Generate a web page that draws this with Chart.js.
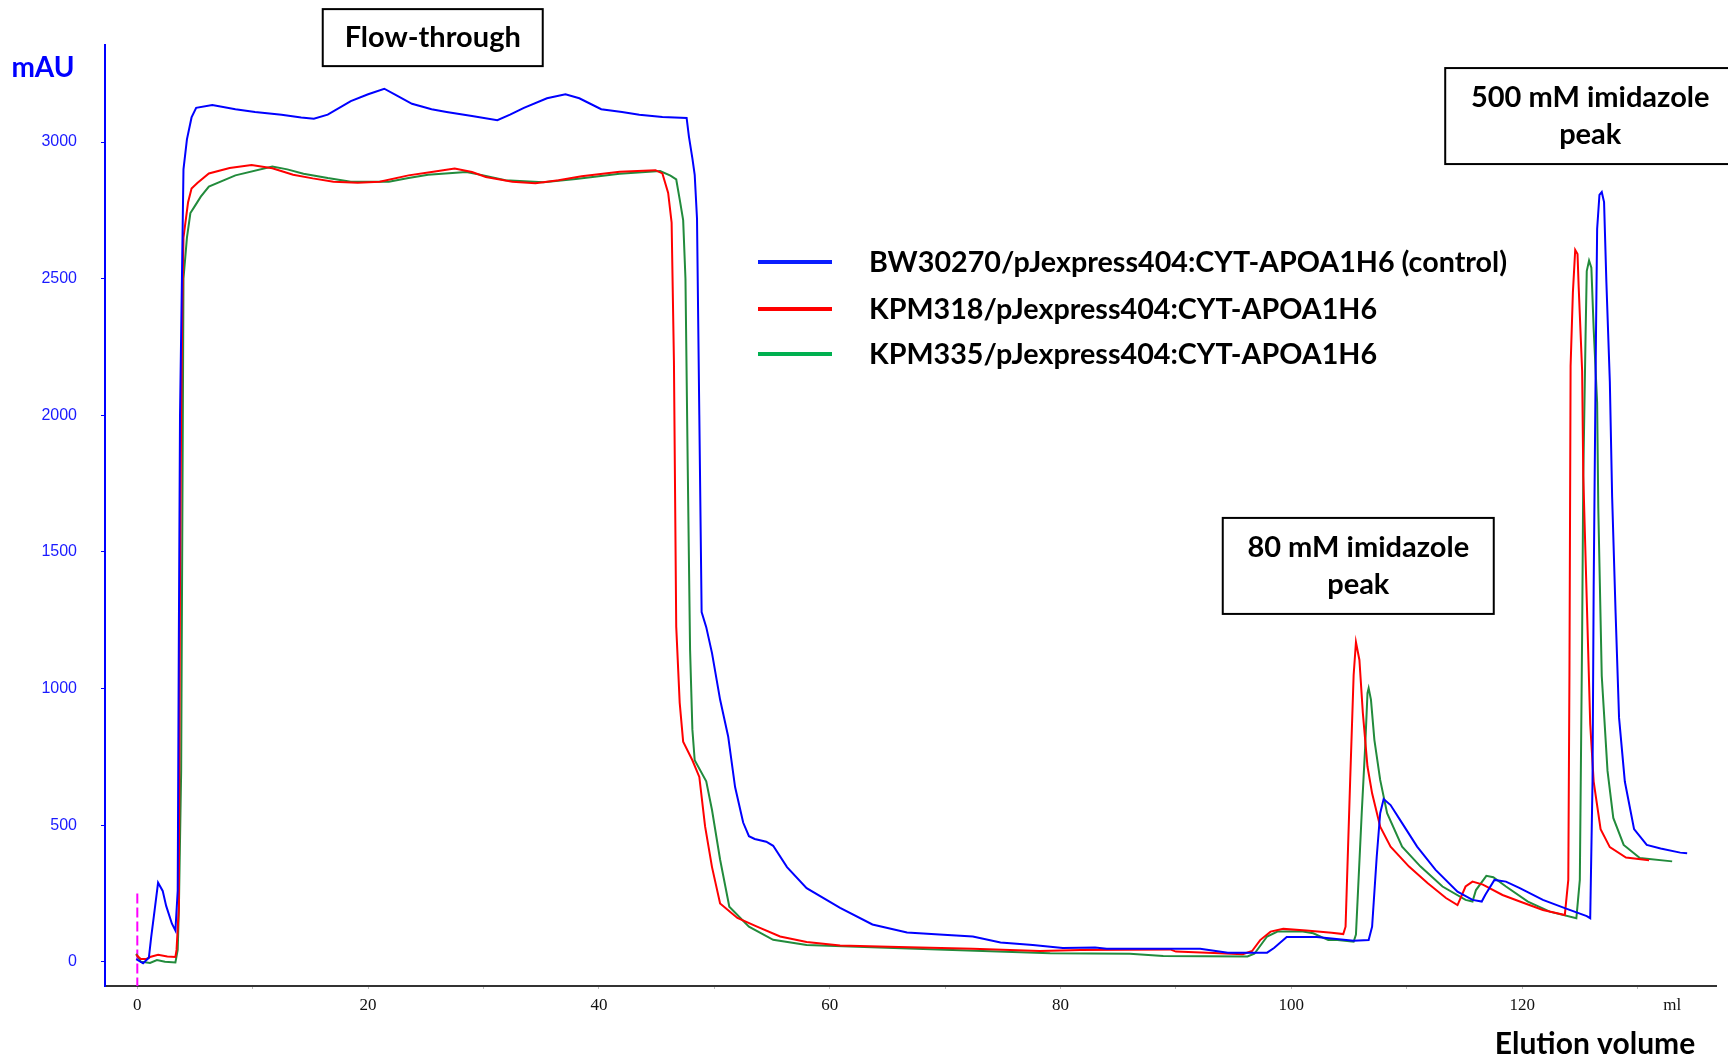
<!DOCTYPE html>
<html>
<head>
<meta charset="utf-8">
<script src="https://cdn.jsdelivr.net/npm/chart.js@4.4.1/dist/chart.umd.min.js"></script>
<style>
  html, body { margin: 0; padding: 0; background: #fff; overflow: hidden; }
  #wrap { width: 1728px; height: 1058px; position: relative; }
</style>
</head>
<body>
<div id="wrap"><canvas id="chroma"></canvas></div>
<script>
// elution volume (ml) / absorbance (mAU) for each run
const volBW = [-0.1,0.5,1.0,1.2,1.5,1.8,2.2,2.5,3.0,3.3,3.5,3.6,3.7,3.9,4.0,4.3,4.7,5.1,6.5,8.5,10.2,12.5,14.2,15.3,16.5,18.5,20.0,21.4,22.5,23.8,25.5,26.8,29.0,31.2,32.3,33.5,35.5,37.1,38.3,40.2,42.0,43.5,45.5,47.6,47.8,48.1,48.3,48.5,48.7,48.9,49.3,49.8,50.5,51.2,51.8,52.5,53.0,53.5,54.5,55.1,56.3,58.0,60.9,63.7,66.7,69.5,72.4,74.8,77.6,80.2,83.0,84.0,92.1,94.5,97.9,98.5,99.6,102.2,105.4,106.7,107.0,107.4,107.7,108.0,108.6,109.6,110.9,112.5,114.4,115.7,116.5,116.8,117.6,118.6,119.8,121.8,123.7,125.6,125.9,126.1,126.2,126.4,126.5,126.7,126.9,127.1,127.3,127.6,127.8,128.1,128.4,128.9,129.7,130.8,132.0,133.7,134.3];
const absBW = [10,-5,15,90,190,290,260,205,140,115,260,1200,2000,2600,2900,3010,3090,3125,3135,3120,3110,3100,3090,3085,3100,3150,3175,3195,3170,3140,3120,3110,3095,3080,3100,3125,3160,3175,3160,3120,3110,3100,3092,3088,3020,2940,2880,2720,2000,1280,1225,1130,960,825,640,510,460,450,440,425,347,270,198,137,108,100,93,71,62,51,53,48,48,34,34,51,91,91,78,80,129,385,544,596,574,508,422,337,257,227,221,245,300,294,270,227,197,168,160,660,1372,2298,2682,2807,2817,2780,2489,2124,1701,1277,893,660,486,428,415,400,398];

const volK318 = [-0.1,0.3,0.8,1.1,1.8,2.6,3.3,3.4,3.6,3.7,3.8,3.9,4.0,4.4,4.7,5.2,6.2,8.0,9.9,11.7,13.5,15.2,17.0,19.1,21.0,23.5,25.5,27.5,29.0,30.2,32.5,34.5,36.5,38.5,41.8,44.9,45.5,46.0,46.3,46.5,46.7,47.0,47.3,48.1,48.7,49.2,49.8,50.5,52.0,53.7,55.7,58.0,60.9,66.0,72.4,78.2,81.7,89.5,90.0,93.8,95.8,96.6,97.3,98.2,99.3,101.3,103.5,104.5,104.7,105.1,105.4,105.6,105.9,106.2,106.6,107.0,107.7,108.6,110.2,111.8,113.4,114.4,115.1,115.7,116.6,118.3,119.8,121.8,123.7,124.0,124.1,124.2,124.4,124.6,124.8,124.9,125.2,125.3,125.9,126.2,126.8,127.6,129.0,131.0];
const absK318 = [26,11,11,18,26,20,18,44,200,1400,2000,2400,2650,2780,2830,2850,2885,2905,2916,2904,2880,2867,2855,2851,2855,2878,2890,2903,2890,2872,2855,2849,2860,2875,2891,2897,2885,2814,2705,2200,1226,948,806,738,677,496,347,214,161,129,93,73,60,55,48,40,44,46,38,32,28,40,80,111,121,115,107,102,129,666,1050,1170,1105,910,715,617,495,422,349,289,234,208,276,294,283,245,221,190,172,300,1046,2180,2451,2605,2590,2470,2162,1778,871,660,486,420,382,372];

const volK335 = [-0.1,0.3,1.1,1.7,2.4,3.3,3.5,3.6,3.8,3.9,4.0,4.3,4.6,4.9,5.5,6.2,8.5,11.7,13.0,14.4,16.5,18.5,21.8,23.5,25.2,28.5,30.0,31.9,35.2,38.0,41.8,45.3,46.2,46.7,47.0,47.3,47.5,47.7,47.9,48.1,48.3,49.3,49.8,50.5,51.3,53.0,55.1,58.0,63.0,70.0,79.1,86.0,88.9,96.2,96.8,97.9,98.8,101.0,101.9,103.2,104.0,105.4,105.6,106.1,106.4,106.6,106.7,106.9,107.2,107.7,108.3,109.6,111.2,113.1,115.1,115.7,116.0,116.9,117.5,118.6,120.5,122.4,124.7,125.0,125.2,125.3,125.5,125.6,125.8,126.0,126.2,126.5,126.6,126.9,127.4,127.9,128.8,130.2,133.0];
const absK335 = [30,1,-4,7,1,-2,44,190,700,1600,2500,2650,2740,2760,2800,2837,2878,2910,2900,2884,2868,2855,2855,2868,2880,2890,2878,2860,2853,2865,2884,2894,2877,2863,2790,2714,2500,1800,1141,850,738,661,556,375,202,129,81,62,55,45,32,30,22,20,30,93,111,111,105,80,80,74,100,544,788,984,1002,960,812,666,544,422,349,276,227,221,263,315,310,276,221,184,160,300,1200,1778,2298,2528,2566,2540,2316,2046,1661,1046,699,527,428,380,368];

// sample injection mark
const injectVol = [0, 0];
const injectAbs = [250, -88];

const seriesNames = [
  'BW30270/pJexpress404:CYT-APOA1H6 (control)',
  'KPM318/pJexpress404:CYT-APOA1H6',
  'KPM335/pJexpress404:CYT-APOA1H6'
];
const yTicks = [0, 500, 1000, 1500, 2000, 2500, 3000];
const xTicks = [0, 10, 20, 30, 40, 50, 60, 70, 80, 90, 100, 110, 120, 130, 133];
const unitTick = 133;

// boxed notes, placed in ml / mAU
const notes = [
  { lines: ['Flow-through'], x: 25.6, y: 3382, w: 220, h: 57 },
  { lines: ['80 mM imidazole', 'peak'], x: 105.8, y: 1449, w: 271, h: 96 },
  { lines: ['500 mM imidazole', 'peak'], x: 125.9, y: 3095, w: 290, h: 96 }
];

const pts = (xs, ys) => xs.map((x, i) => ({ x: x, y: ys[i] }));

const labelFont = 'Lato, "Open Sans", sans-serif';

const decorations = {
  id: 'decorations',
  afterDraw(chart) {
    const ctx = chart.ctx;
    const xs = chart.scales.x, ys = chart.scales.y;
    ctx.save();

    // axis names
    ctx.textBaseline = 'middle';
    ctx.textAlign = 'center';
    ctx.fillStyle = '#0000ff';
    ctx.font = 'bold 28px ' + labelFont;
    ctx.fillText('mAU', 43, 68);
    ctx.fillStyle = '#000';
    ctx.font = 'bold 30px ' + labelFont;
    ctx.fillText('Elution volume', 1595, 1044);

    // legend
    const swatch = ['#0a1eff', '#ff0000', '#00b050'];
    const rowY = [262, 309, 354];
    ctx.font = 'bold 28.7px ' + labelFont;
    ctx.textAlign = 'left';
    seriesNames.forEach((name, i) => {
      ctx.strokeStyle = swatch[i];
      ctx.lineWidth = 4;
      ctx.beginPath();
      ctx.moveTo(758, rowY[i]);
      ctx.lineTo(832, rowY[i]);
      ctx.stroke();
      ctx.fillStyle = '#000';
      ctx.fillText(name, 869, rowY[i] + 1);
    });

    // boxed notes
    ctx.font = 'bold 29px ' + labelFont;
    ctx.textAlign = 'center';
    notes.forEach(n => {
      const cx = xs.getPixelForValue(n.x);
      const cy = ys.getPixelForValue(n.y);
      ctx.fillStyle = '#fff';
      ctx.fillRect(cx - n.w / 2, cy - n.h / 2, n.w, n.h);
      ctx.strokeStyle = '#000';
      ctx.lineWidth = 2;
      ctx.strokeRect(cx - n.w / 2, cy - n.h / 2, n.w, n.h);
      ctx.fillStyle = '#000';
      const step = 37;
      const top = cy - (n.lines.length - 1) * step / 2;
      n.lines.forEach((t, k) => ctx.fillText(t, cx, top + k * step));
    });
    ctx.restore();
  }
};

new Chart(document.getElementById('chroma'), {
  type: 'line',
  data: {
    datasets: [
      { label: seriesNames[0], data: pts(volBW, absBW), borderColor: '#0000ff' },
      { label: seriesNames[1], data: pts(volK318, absK318), borderColor: '#ff0000' },
      { label: seriesNames[2], data: pts(volK335, absK335), borderColor: '#228b3c' },
      { label: 'inject', data: pts(injectVol, injectAbs), borderColor: '#ff00ff', borderDash: [10, 4] }
    ]
  },
  options: {
    responsive: true,
    maintainAspectRatio: false,
    animation: false,
    devicePixelRatio: 1,
    layout: { padding: { left: 0, right: 12, top: 45, bottom: 0 } },
    elements: {
      point: { radius: 0 },
      line: { borderWidth: 2, tension: 0, fill: false }
    },
    plugins: { legend: { display: false }, tooltip: { enabled: false } },
    scales: {
      x: {
        type: 'linear',
        min: -2.8,
        max: 136.8,
        afterFit: s => { s.height = 72; },
        afterBuildTicks: s => { s.ticks = xTicks.map(v => ({ value: v })); },
        ticks: {
          autoSkip: false,
          maxRotation: 0,
          padding: 6,
          color: '#111',
          font: { family: '"Liberation Serif", serif', size: 17 },
          callback: v => v === unitTick ? 'ml' : (v % 20 === 0 ? String(v) : '')
        },
        grid: {
          drawOnChartArea: false,
          tickLength: 3,
          color: c => (c.tick && c.tick.value === unitTick) ? 'rgba(0,0,0,0)' : '#bbbbbb'
        },
        border: { color: '#333', width: 2 }
      },
      y: {
        type: 'linear',
        min: -88,
        max: 3355,
        afterFit: s => { s.width = 105; },
        afterBuildTicks: s => { s.ticks = yTicks.map(v => ({ value: v })); },
        ticks: {
          padding: 24,
          color: '#1a1aff',
          font: { family: '"Liberation Sans", sans-serif', size: 16 },
          callback: v => String(v)
        },
        grid: { drawOnChartArea: false, tickLength: 4, color: '#0000ff' },
        border: { color: '#0000ff', width: 2 }
      }
    }
  },
  plugins: [decorations]
});
</script>
</body>
</html>
